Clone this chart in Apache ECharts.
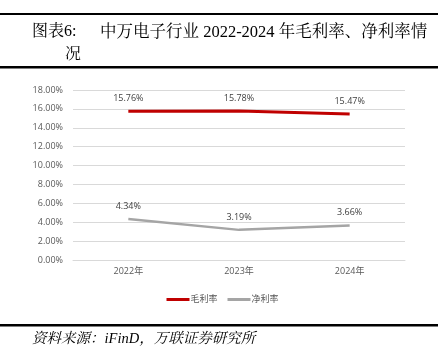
<!DOCTYPE html>
<html>
<head>
<meta charset="utf-8">
<script src="https://cdn.jsdelivr.net/npm/echarts@6/dist/echarts.min.js"></script>
<style>
html,body{margin:0;padding:0;background:#fff;}
#chart{width:445px;height:356px;}
</style>
</head>
<body>
<div id="chart"></div>
<script>
var categories = ['2022年', '2023年', '2024年'];
var grossMargin = [15.76, 15.78, 15.47];
var netMargin = [4.34, 3.19, 3.66];
var seriesNames = ['毛利率', '净利率'];
var titleLabel = '图表6:';
var titleText = '中万电子行业 2022-2024 年毛利率、净利率情';
var titleWrap = '况';
var sourceText = '资料来源：iFinD，万联证券研究所';

var serifFont = '"Liberation Serif", "Noto Serif CJK SC", "Noto Sans CJK SC", serif';
var sansFont = '"Open Sans", "Noto Sans CJK SC", sans-serif';

var labelFmt = function (p) { return Number(p.value).toFixed(2) + '%'; };

var chart = echarts.init(document.getElementById('chart'), null, {renderer: 'canvas'});
chart.setOption({
  animation: false,
  backgroundColor: '#fff',
  grid: {left: 73, right: 40, top: 90, bottom: 96},
  xAxis: {
    type: 'category',
    data: categories,
    boundaryGap: true,
    axisLine: {show: true, lineStyle: {color: '#d9d9d9'}},
    axisTick: {show: false},
    axisLabel: {fontSize: 9, color: '#595959', margin: 7, fontFamily: sansFont}
  },
  yAxis: {
    type: 'value',
    min: 0, max: 18, interval: 2,
    axisLine: {show: false},
    axisTick: {show: false},
    splitLine: {lineStyle: {color: '#d9d9d9', width: 1}},
    axisLabel: {fontSize: 9, color: '#595959', margin: 10, fontFamily: sansFont,
      formatter: function (v) { return v.toFixed(2) + '%'; }}
  },
  legend: {
    data: seriesNames,
    left: 'center', top: 290,
    icon: 'rect', itemWidth: 23, itemHeight: 3, itemGap: 10,
    textStyle: {fontSize: 9, color: '#595959', fontFamily: sansFont, padding: [0, 0, 0, -4]}
  },
  series: [
    {
      name: seriesNames[0], type: 'line', data: grossMargin,
      symbol: 'circle', symbolSize: 0, showSymbol: true,
      lineStyle: {color: '#c00000', width: 3}, itemStyle: {color: '#c00000'},
      label: {show: true, position: 'top', distance: 8, fontSize: 9, color: '#404040', fontFamily: sansFont,
        formatter: labelFmt}
    },
    {
      name: seriesNames[1], type: 'line', data: netMargin,
      symbol: 'circle', symbolSize: 0, showSymbol: true,
      lineStyle: {color: '#a5a5a5', width: 2.5}, itemStyle: {color: '#a5a5a5'},
      label: {show: true, position: 'top', distance: 8, fontSize: 9, color: '#404040', fontFamily: sansFont,
        formatter: labelFmt}
    }
  ],
  graphic: [
    {type: 'rect', shape: {x: 0, y: 13, width: 438, height: 2}, style: {fill: '#000'}},
    {type: 'rect', shape: {x: 0, y: 66, width: 438, height: 2.5}, style: {fill: '#000'}},
    {type: 'rect', shape: {x: 0, y: 324, width: 438, height: 2.5}, style: {fill: '#000'}},
    {type: 'text', left: 32, top: 24, style: {text: titleLabel, font: '16px ' + serifFont, fill: '#000'}},
    {type: 'text', left: 100, top: 24, style: {text: titleText, font: '16.5px ' + serifFont, fill: '#000'}},
    {type: 'text', left: 65, top: 47, style: {text: titleWrap, font: '16px ' + serifFont, fill: '#000'}},
    {type: 'text', left: 32, top: 332, style: {text: sourceText, font: 'italic 14.5px ' + serifFont, fill: '#000'}}
  ]
});
</script>
</body>
</html>
